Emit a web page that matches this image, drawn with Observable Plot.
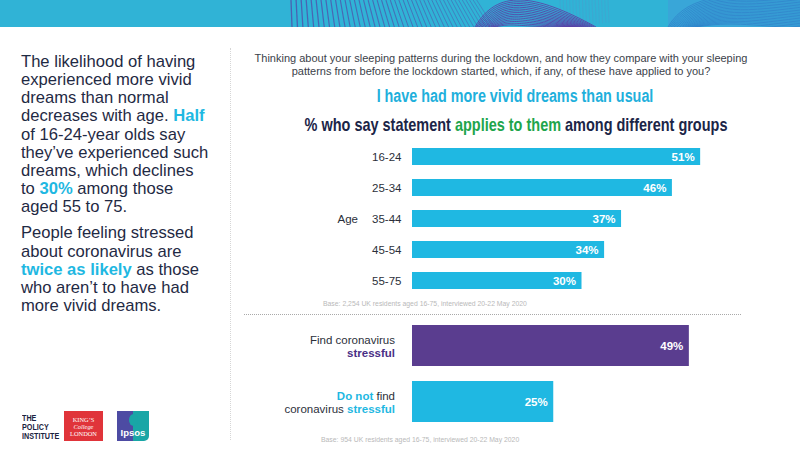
<!DOCTYPE html>
<html><head><meta charset="utf-8">
<script src="https://cdn.jsdelivr.net/npm/d3@7"></script>
<script src="https://cdn.jsdelivr.net/npm/@observablehq/plot@0.6"></script>
<style>
html,body{margin:0;padding:0;background:#fff}
#page{position:relative;width:800px;height:450px;overflow:hidden;font-family:"Liberation Sans",Arial,sans-serif;color:#1f2a44}
.abs{position:absolute}
#banner{left:0;top:0;width:800px;height:27px;background:#30b3d6}
#left{left:21px;top:53px;width:205px;font-size:16.6px;line-height:18.15px;color:#1f2a44}
#left p{margin:0 0 8px 0}
#left b{color:#1fb8e2}
#vr{left:230px;top:48px;height:392px;border-left:1px dotted #d6d6d6}
#hr{left:244px;top:314px;width:497px;border-top:1px dotted #a9a9a9}
#q{left:241px;top:52px;width:520px;text-align:center;font-size:11px;line-height:13px;color:#3b3f4a;white-space:nowrap}
.head{white-space:nowrap;font-weight:700;text-align:center}
#h1{left:265px;width:500px;top:86px;font-size:17.5px;line-height:20px;color:#1fb0dc;transform:scaleX(.82)}
#h2{left:216px;width:600px;top:114px;font-size:18.5px;line-height:21px;color:#1b2547;transform:scaleX(.782)}
#h2 span{color:#1ea54c}
.base{font-size:6.85px;color:#b9b9b9;white-space:nowrap}
#chartA,#chartB{position:absolute;left:240px}
#chartA{top:141px}#chartB{top:317px}
#pi{left:22px;top:414px;font-weight:700;font-size:9px;line-height:9px;color:#1b2440;transform:scaleX(.8);transform-origin:left top;white-space:nowrap}
#kcl{left:64px;top:411px;width:39px;height:30px;background:#e0343a;color:#fff;font-family:"Liberation Serif",serif;font-size:6.4px;line-height:7px;text-align:center;box-sizing:border-box;padding-top:5px}
#ip{left:117px;top:411px;width:32px;height:30px;background:linear-gradient(90deg,#4d4ba3 0 50%,#19a6a6 50%);border-radius:0 0 5px 0;color:#fff;font-weight:700;font-size:9.5px;text-align:center;line-height:13px;box-sizing:border-box;padding-top:15px;overflow:hidden}
#ipHead{left:129px;top:414px;width:9px;height:12px;border-radius:50%;background:#19a6a6}
</style></head>
<body><div id="page">
<div id="banner" class="abs"></div>
<div id="left" class="abs">
<p>The likelihood of having<br>experienced more vivid<br>dreams than normal<br>decreases with age. <b>Half</b><br>of 16-24-year olds say<br>they’ve experienced such<br>dreams, which declines<br>to <b>30%</b> among those<br>aged 55 to 75.</p>
<p>People feeling stressed<br>about coronavirus are<br><b>twice as likely</b> as those<br>who aren’t to have had<br>more vivid dreams.</p>
</div>
<div id="vr" class="abs"></div>
<div id="q" class="abs">Thinking about your sleeping patterns during the lockdown, and how they compare with your sleeping<br>patterns from before the lockdown started, which, if any, of these have applied to you?</div>
<div id="h1" class="abs head">I have had more vivid dreams than usual</div>
<div id="h2" class="abs head">% who say statement <span>applies to them</span> among different groups</div>
<div id="chartA"></div>
<div class="abs base" style="left:323px;top:300px">Base: 2,254 UK residents aged 16-75, interviewed 20-22 May 2020</div>
<div id="hr" class="abs"></div>
<div id="chartB"></div>
<div class="abs base" style="left:321px;top:436px">Base: 954 UK residents aged 16-75, interviewed 20-22 May 2020</div>
<div id="pi" class="abs">THE<br>POLICY<br>INSTITUTE</div>
<div id="kcl" class="abs">KING’S<br><i>College</i><br>LONDON</div>
<div id="ip" class="abs">Ipsos</div>
<div id="ipHead" class="abs"></div>
</div>
<script>
const ageGroups = ["16-24","25-34","35-44","45-54","55-75"];
const ageValues = [51,46,37,34,30];
const stressGroups = ["Find coronavirus\nstressful","Do not find\ncoronavirus stressful"];
const stressValues = [49,25];
const stressColors = ["#5a3d8f","#1fb8e2"];
const ageColor = "#1fb8e2";
const xDomain = [0,60];

const ageData = ageGroups.map((g,i)=>({g,v:ageValues[i]}));
const stressData = stressGroups.map((g,i)=>({g,v:stressValues[i]}));
const labelFont = {fontSize:11.5,fill:"#fff",fontWeight:700,textAnchor:"end",dx:-6};

const chartA = Plot.plot({
  width:511,height:155,marginLeft:172,marginRight:0,marginTop:0,marginBottom:0,
  style:{fontFamily:"Liberation Sans",background:"transparent"},
  x:{domain:xDomain,axis:null},
  y:{domain:ageGroups,paddingInner:.45,paddingOuter:.225,label:null},
  marks:[
    Plot.barX(ageData,{x:"v",y:"g",fill:ageColor}),
    Plot.axisY({tickSize:0,tickPadding:11,fontSize:11.5,label:null,color:"#2b2f3a"}),
    Plot.text(["Age"],{y:()=>"35-44",frameAnchor:"left",dx:-75,fontSize:11.5,fill:"#2b2f3a",textAnchor:"start"}),
    Plot.text(ageData,{x:"v",y:"g",text:d=>d.v+"%",...labelFont})
  ]
});
document.getElementById("chartA").append(chartA);

const chartB = Plot.plot({
  width:511,height:113,marginLeft:172,marginRight:0,marginTop:0,marginBottom:0,
  style:{fontFamily:"Liberation Sans",background:"transparent"},
  x:{domain:xDomain,axis:null},
  y:{domain:stressGroups,paddingInner:.27,paddingOuter:.135,label:null},
  color:{domain:stressGroups,range:stressColors},
  marks:[
    Plot.barX(stressData,{x:"v",y:"g",fill:"g"}),
    Plot.axisY({tickSize:0,tickPadding:17.5,fontSize:11.5,lineHeight:1.19,label:null,color:"#2b2f3a"}),
    Plot.text(stressData,{x:"v",y:"g",text:d=>d.v+"%",...labelFont})
  ]
});
document.getElementById("chartB").append(chartB);

// colour the emphasised words of the lower axis labels
d3.select(chartB).selectAll("text tspan").each(function(){
  const el=d3.select(this), t=el.text();
  if(!/stressful|Do not/.test(t)) return;
  const blue=/Do not|coronavirus stressful/.test(t);
  el.text(null);
  t.split(/(stressful|Do not)/).filter(Boolean).forEach(part=>{
    const s=el.append("tspan").text(part);
    if(part==="stressful"||part==="Do not"){
      s.attr("fill",blue?"#1fb8e2":"#4a2f86").attr("font-weight",700);
    }
  });
});

// decorative banner line work
const band=d3.select("#banner").append("svg").attr("width",800).attr("height",27).style("display","block");
// slanted hatch, denser and more tilted to the right
let hx=291;
for(let i=0;i<44;i++){
  const t=i/43;
  band.append("line").attr("x1",hx).attr("y1",0).attr("x2",hx+1+t*16).attr("y2",27)
    .attr("stroke","#4f55ad").attr("stroke-width",1.3-.6*t).attr("opacity",.85-.25*t);
  hx+=5.1-1.6*t;
}
// faint verticals beside the mound
for(let i=0;i<16;i++){
  const x=560+i*3.2;
  band.append("line").attr("x1",x).attr("y1",0).attr("x2",x+1).attr("y2",27-i*.3)
    .attr("stroke","#5a8fc8").attr("stroke-width",.7).attr("opacity",.45);
}
// nested mound
for(let i=0;i<15;i++){
  const a=475+i*1.4, b=596-i*1.8, c=-9+i*2.4;
  band.append("path").attr("d",`M${a} 27 C${a+22} ${c-2} ${b-62} ${c+2} ${b} 27`)
    .attr("fill","none").attr("stroke","#5a3fa6").attr("stroke-width",1).attr("opacity",.85);
}
// curved sweep on the right
band.append("rect").attr("x",668).attr("y",0).attr("width",132).attr("height",27).attr("fill","#39a6d8");
for(let i=0;i<20;i++){
  const e=-4+i*1.6;
  band.append("path").attr("d",`M${668+i*1.5} 27 C${688+i*2} ${e-4} ${735} ${e-3} 800 ${e+2}`)
    .attr("fill","none").attr("stroke","#2f7fc8").attr("stroke-width",.9).attr("opacity",.8);
}
</script>
</body></html>
